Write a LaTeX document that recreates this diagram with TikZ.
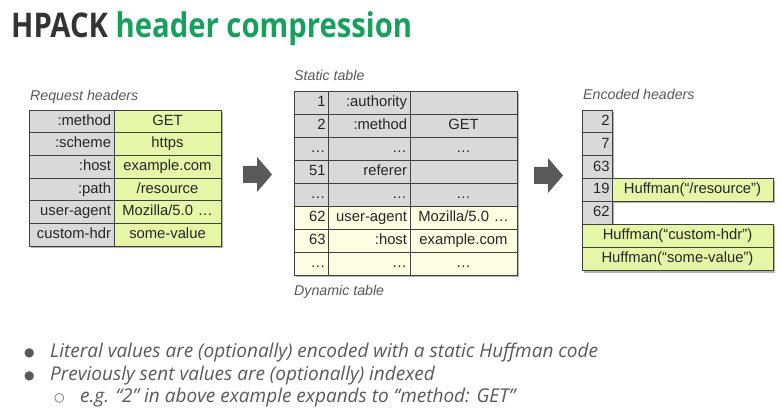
\documentclass[tikz,border=0pt]{standalone}
\usepackage{fontspec}
\setmainfont{Liberation Sans}
\newfontfamily\osans{Open Sans}
\newfontfamily\djv{DejaVu Sans}
\definecolor{gcell}{HTML}{D9D9D9}
\definecolor{lcell}{HTML}{E6F5A6}
\definecolor{ccell}{HTML}{FDFDE2}
\definecolor{titlegreen}{HTML}{16A05D}
\definecolor{titledark}{HTML}{333333}
\definecolor{txt}{HTML}{595959}
\begin{document}
\begin{tikzpicture}[x=1pt,y=-1pt,
  cell/.style={draw=black!75, line width=0.8pt, inner sep=0pt, font=\fontsize{14.8}{16}\selectfont, text=black!85, text height=10.6pt, text depth=3pt},
  kr/.style={cell, fill=gcell, minimum width=85pt, text width=79pt, align=right, minimum height=22.7pt},
  vr/.style={cell, fill=lcell, minimum width=107pt, text width=101pt, align=center, minimum height=22.7pt},
  sn/.style={cell, minimum width=34pt, text width=29pt, align=right, minimum height=23pt},
  sk/.style={cell, minimum width=82pt, text width=76pt, align=right, minimum height=23pt},
  sv/.style={cell, minimum width=107pt, text width=101pt, align=center, minimum height=23pt},
  en/.style={cell, fill=gcell, minimum width=30pt, text width=25pt, align=right, minimum height=22.9pt},
  lbl/.style={font=\fontsize{14.2}{16}\selectfont\itshape, text=txt, anchor=west, inner sep=0pt},
  blt/.style={font=\osans\fontsize{19}{22}\selectfont\itshape, text=txt, anchor=west, inner sep=0pt},
  dot/.style={anchor=west, inner sep=0pt, text=txt, font=\djv\fontsize{12}{13}\selectfont},
  shd/.style={fill=black!30},
  barrow/.style={fill=black!65}]
\useasboundingbox (0,0) rectangle (780,417);
% title
\node[anchor=west, inner sep=0pt, xscale=0.86, transform shape, font=\osans\bfseries\fontsize{34}{40}\selectfont] (title) at (11,29) {\textcolor{titledark}{HPACK} \textcolor{titlegreen}{header compression}};
% request headers
\node[lbl] (reqcap) at (30,97) {Request headers};
\fill[shd] (31,112) rectangle (223,248);
\foreach \k/\v [count=\i from 0] in {{:method}/{GET}, {:scheme}/{https}, {:host}/{example.com}, {:path}/{/resource}, {user-agent}/{Mozilla/5.0 \dots}, {custom-hdr}/{some-value}}{
  \node[kr] (rk\i) at (71.5,{121.35+22.7*\i}) {\k};
  \node[vr] (rv\i) at (167.5,{121.35+22.7*\i}) {\v};
}
% arrow 1
\fill[barrow] (243,166) -- (257,166) -- (257,157) -- (272,174.5) -- (257,192) -- (257,183) -- (243,183) -- cycle;
% static table
\node[lbl] (stcap) at (294,75) {Static table};
\node[lbl] (dycap) at (294,292) {Dynamic table};
\fill[shd] (296,93) rectangle (519,277);
\foreach \n/\k/\v/\f [count=\i from 0] in {{1}/{:authority}/{}/{gcell}, {2}/{:method}/{GET}/{gcell}, {\dots}/{\dots}/{\dots}/{gcell}, {51}/{referer}/{}/{gcell}, {\dots}/{\dots}/{\dots}/{gcell}, {62}/{user-agent}/{Mozilla/5.0 \dots}/{ccell}, {63}/{:host}/{example.com}/{ccell}, {\dots}/{\dots}/{\dots}/{ccell}}{
  \node[sn, fill=\f] (sn\i) at (311,{102.5+23*\i}) {\n};
  \node[sk, fill=\f] (sk\i) at (369,{102.5+23*\i}) {\k};
  \node[sv, fill=\f] (sv\i) at (463.5,{102.5+23*\i}) {\v};
}
% arrow 2
\fill[barrow] (534,167) -- (548,167) -- (548,158) -- (563,175.5) -- (548,193) -- (548,184) -- (534,184) -- cycle;
% encoded headers
\node[lbl] (encap) at (583,94) {Encoded headers};
\fill[shd] (584,112) rectangle (614,228);
\fill[shd] (614,181) rectangle (775,203);
\fill[shd] (584,226) rectangle (775,273);
\foreach \n [count=\i from 0] in {2,7,63,19,62}{
  \node[en] (e\i) at (597,{121.45+22.9*\i}) {\n};
}
\node[cell, fill=lcell, minimum width=161pt, minimum height=22.9pt] (h19) at (692.5,190.1) {Huffman(“/resource”)};
\node[cell, fill=lcell, minimum width=191pt, minimum height=22.9pt] (hk) at (677.5,235.9) {Huffman(“custom-hdr”)};
\node[cell, fill=lcell, minimum width=191pt, minimum height=22.9pt] (hv) at (677.5,258.8) {Huffman(“some-value”)};
% bullets
\node[dot] (b1) at (24,353) {●};
\node[blt] (t1) at (50,353) {Literal values are (optionally) encoded with a static Huffman code};
\node[dot] (b2) at (24,376) {●};
\node[blt] (t2) at (50,376) {Previously sent values are (optionally) indexed};
\node[dot] (b3) at (54,398) {○};
\node[blt] (t3) at (80,398) {e.g. “2” in above example expands to “method: GET”};
\end{tikzpicture}
\end{document}
